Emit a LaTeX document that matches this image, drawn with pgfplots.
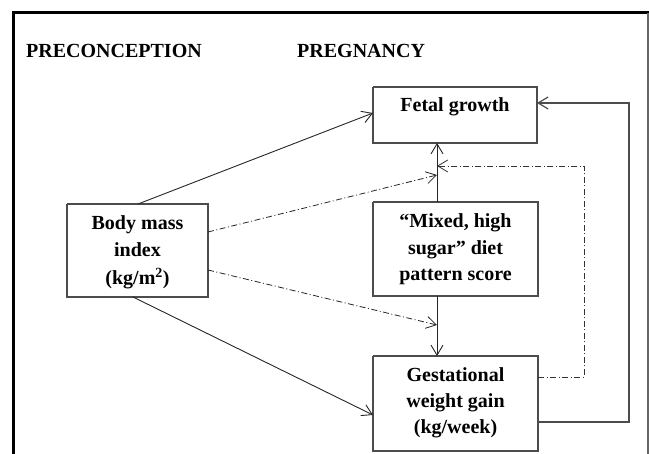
\documentclass[border=0pt]{standalone}
\usepackage{fontspec}
\setmainfont{Liberation Serif}
\usepackage{pgfplots}
\pgfplotsset{compat=1.18}
\usetikzlibrary{arrows.meta}
\tikzset{lbl/.style={font=\bfseries\fontsize{20}{24}\selectfont, inner sep=0pt}}
\begin{document}
\begin{tikzpicture}
\useasboundingbox (0,0) rectangle (649pt,454pt);
\begin{axis}[
  at={(0,0)}, anchor=south west,
  scale only axis, width=649pt, height=454pt,
  xmin=0, xmax=649, ymin=0, ymax=454, y dir=reverse,
  hide axis, clip=true,
]
% frame
\addplot[black, line width=3pt] coordinates {(13.5,460) (13.5,13) (649,13)};
\addplot[black!60, line width=1.5pt] coordinates {(648,13) (648,460)};
% boxes
\addplot[black!70, line width=1.1pt] coordinates {(373,87) (537,87) (537,143) (373,143) (373,87)};
\addplot[black!70, line width=1.1pt] coordinates {(67,204) (208,204) (208,297) (67,297) (67,204)};
\addplot[black!70, line width=1.1pt] coordinates {(373,202) (538,202) (538,296) (373,296) (373,202)};
\addplot[black!70, line width=1.1pt] coordinates {(373,356) (538,356) (538,451) (373,451) (373,356)};
% solid arrows
\addplot[black!85, line width=0.9pt, -{Straight Barb[length=10pt,width=12pt]}] coordinates {(138,204) (373,113)};
\addplot[black!85, line width=0.9pt, -{Straight Barb[length=10pt,width=12pt]}] coordinates {(133,297) (373,415)};
\addplot[black!85, line width=0.9pt, -{Straight Barb[length=10pt,width=12pt]}] coordinates {(437,202) (437,143)};
\addplot[black!85, line width=0.9pt, -{Straight Barb[length=10pt,width=12pt]}] coordinates {(437,296) (437,356)};
\addplot[black!70, line width=1.2pt, -{Straight Barb[length=10pt,width=12pt]}] coordinates {(538,422) (629,422) (629,103) (537,103)};
% dash-dot arrows
\addplot[black!85, line width=0.8pt, dash pattern=on 6pt off 2.5pt on 1pt off 2.5pt, -{Straight Barb[length=10pt,width=12pt]}] coordinates {(208,232) (437,175)};
\addplot[black!85, line width=0.8pt, dash pattern=on 6pt off 2.5pt on 1pt off 2.5pt, -{Straight Barb[length=10pt,width=12pt]}] coordinates {(208,270) (437,325)};
\addplot[black!80, line width=0.8pt, dash pattern=on 6pt off 2.5pt on 1pt off 2.5pt, -{Straight Barb[length=10pt,width=12pt]}] coordinates {(538,377) (584,377) (584,166) (437,166)};
% texts
\node[lbl, anchor=base west] at (axis cs:26,58) {PRECONCEPTION};
\node[lbl, anchor=base west] at (axis cs:297,58) {PREGNANCY};
\node[lbl, anchor=base] at (axis cs:455,112) {Fetal growth};
\node[lbl, anchor=base] at (axis cs:137.5,230) {Body mass};
\node[lbl, anchor=base] at (axis cs:137.5,257) {index};
\node[lbl, anchor=base] at (axis cs:137.5,285) {(kg/m\textsuperscript{2})};
\node[lbl, anchor=base] at (axis cs:455.5,228) {“Mixed, high};
\node[lbl, anchor=base] at (axis cs:455.5,255) {sugar” diet};
\node[lbl, anchor=base] at (axis cs:455.5,281) {pattern score};
\node[lbl, anchor=base] at (axis cs:455.5,382) {Gestational};
\node[lbl, anchor=base] at (axis cs:455.5,408) {weight gain};
\node[lbl, anchor=base] at (axis cs:455.5,434) {(kg/week)};
\end{axis}
\end{tikzpicture}
\end{document}
